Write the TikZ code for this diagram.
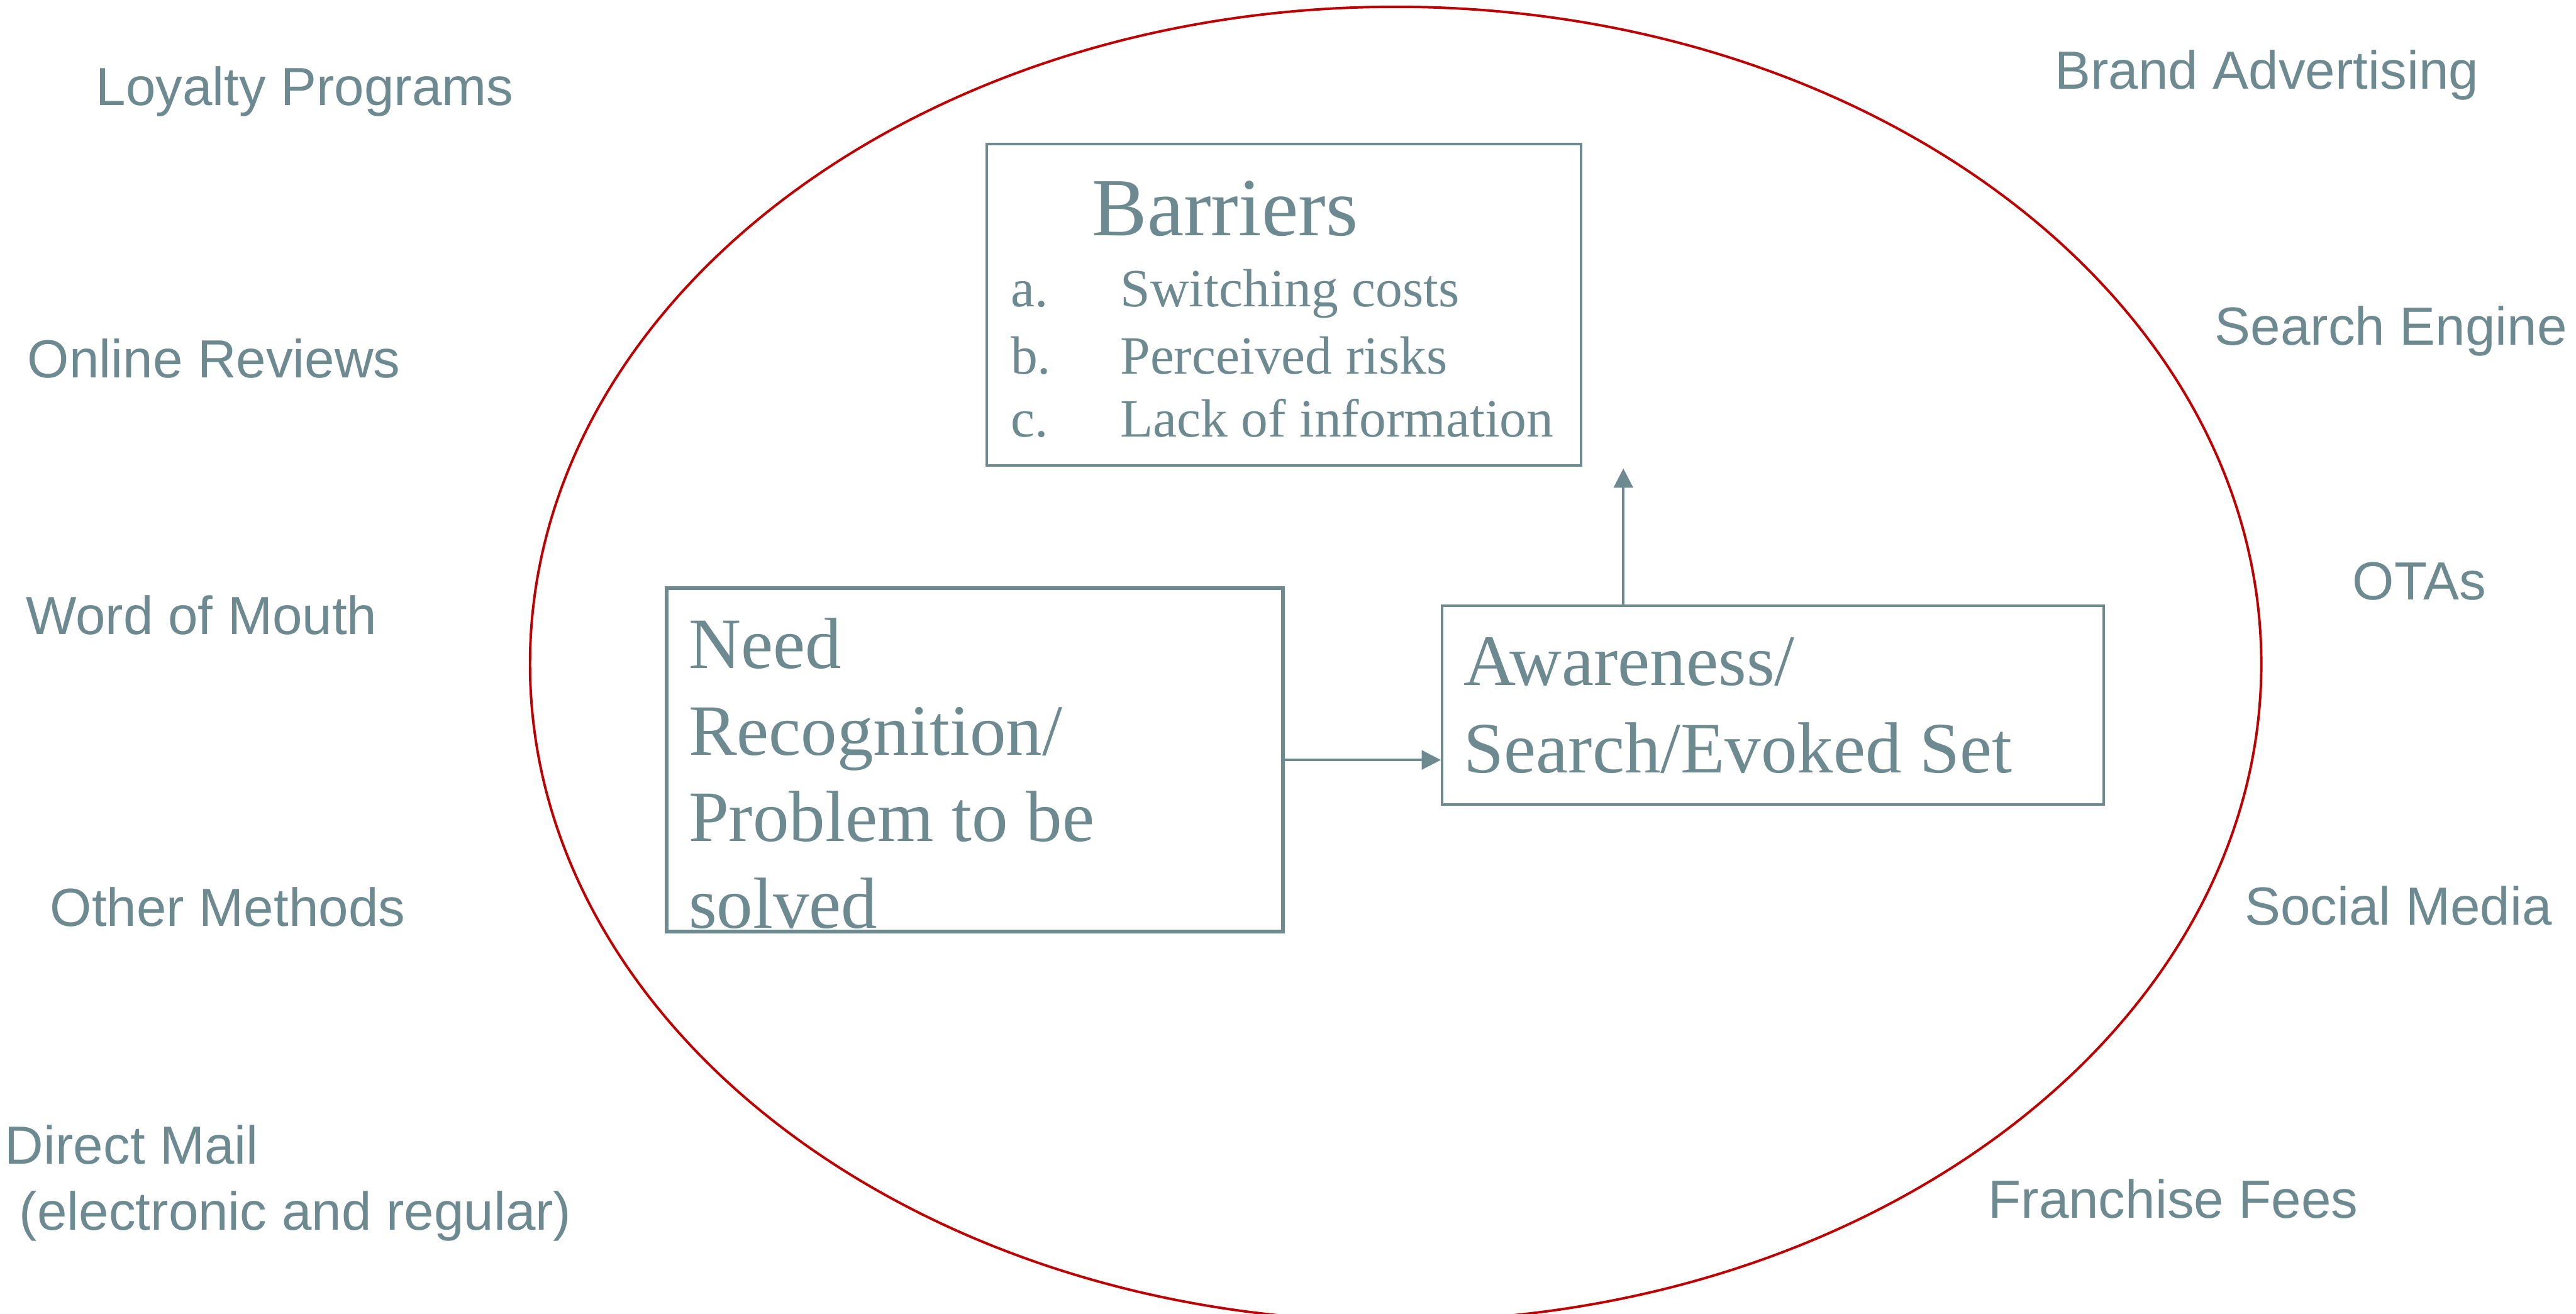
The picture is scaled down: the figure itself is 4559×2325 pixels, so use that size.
\documentclass[tikz,border=0pt]{standalone}
\usepackage{fontspec}
\setmainfont{Liberation Serif}
\setsansfont{Liberation Sans}
\usetikzlibrary{arrows.meta}
\definecolor{slate}{RGB}{108,138,144}
\definecolor{ovalred}{RGB}{192,0,0}
\begin{document}
\begin{tikzpicture}[x=0.25pt,y=-0.25pt,
  channel/.style={anchor=base west, inner sep=0pt, text=slate,
    font=\sffamily\fontsize{23.75}{29.25}\selectfont},
  stagebox/.style={draw=slate, line width=1.1pt, inner sep=0pt, anchor=north west},
  stagetext/.style={anchor=base west, inner sep=0pt, text=slate,
    font=\rmfamily\fontsize{32}{38.4}\selectfont},
  itemtext/.style={anchor=base west, inner sep=0pt, text=slate,
    font=\rmfamily\fontsize{23.8}{28.5}\selectfont},
  flow/.style={draw=slate, line width=1pt, -{Triangle[length=8.5pt,width=8.5pt]}}]

\useasboundingbox (0,0) rectangle (4559,2325);
\fill[white] (0,0) rectangle (4559,2325);

% the red oval around the decision stages
\begin{scope}
  \clip (0,0) rectangle (4559,2325);
  \draw[ovalred, line width=1.1pt] (2470,1175) ellipse [x radius=383pt, y radius=290.75pt];
\end{scope}

% stage boxes
\node[stagebox, minimum width=263pt, minimum height=142pt] (barriers) at (1744,253) {};
\node[stagebox, minimum width=272pt, minimum height=151.25pt] (need) at (1179,1040) {};
\node[stagebox, minimum width=292.75pt, minimum height=87.75pt] (aware) at (2550,1070) {};

% barriers box contents
\node[stagetext, font=\rmfamily\fontsize{36.5}{43}\selectfont] (bartitle) at (1932,417) {Barriers};
\node[itemtext] (itema) at (1788,543) {a.};
\node[itemtext] (itemat) at (1982,543) {Switching costs};
\node[itemtext] (itemb) at (1788,662) {b.};
\node[itemtext] (itembt) at (1982,662) {Perceived risks};
\node[itemtext] (itemc) at (1788,773) {c.};
\node[itemtext] (itemct) at (1982,773) {Lack of information};

% need recognition text, cut off by the box bottom
\begin{scope}
  \clip (need.north west) rectangle (need.south east);
  \node[stagetext, font=\rmfamily\fontsize{32}{38.25}\selectfont] (needtext) at (1218,1183)
    {\begin{tabular}[t]{@{}l@{}}Need\\ Recognition/\\ Problem to be\\ solved\end{tabular}};
\end{scope}
\draw[slate, line width=1.1pt] (need.north west) rectangle (need.south east);

% awareness text
\node[stagetext, font=\rmfamily\fontsize{32}{38.5}\selectfont] (awaretext) at (2590,1213)
  {\begin{tabular}[t]{@{}l@{}}Awareness/\\ Search/Evoked Set\end{tabular}};

% connectors
\coordinate (bartip) at (2873,829);
\draw[flow] (need.east) -- (need.east -| aware.west);
\draw[flow] (aware.north -| bartip) -- (bartip);

% channels on the left
\node[channel] (loyalty) at (169,186) {Loyalty Programs};
\node[channel] (reviews) at (48,668) {Online Reviews};
\node[channel] (wom) at (45,1122) {Word of Mouth};
\node[channel] (other) at (88,1639) {Other Methods};
\node[channel] (mail) at (8,2060)
  {\begin{tabular}[t]{@{}l@{}}Direct Mail\\ \hspace{6.4pt}(electronic and regular)\end{tabular}};

% channels on the right
\node[channel] (brand) at (3636,157) {Brand Advertising};
\node[channel] (search) at (3919,610) {Search Engine};
\node[channel] (otas) at (4163,1061) {OTAs};
\node[channel] (social) at (3972,1637) {Social Media};
\node[channel] (franchise) at (3518,2155) {Franchise Fees};
\end{tikzpicture}
\end{document}
